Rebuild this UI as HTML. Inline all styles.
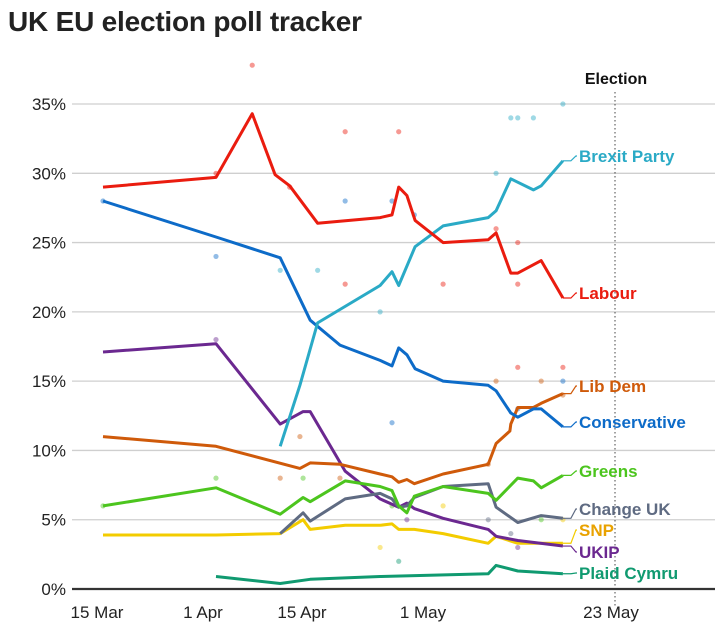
<!DOCTYPE html>
<html><head><meta charset="utf-8"><style>
body{margin:0;background:#fff;width:720px;height:630px;overflow:hidden;font-family:"Liberation Sans",sans-serif}
svg{display:block}
</style></head><body>
<svg width="720" height="630">
<text x="8" y="31" font-size="28" font-weight="bold" fill="#222" textLength="354">UK EU election poll tracker</text>
<g id="grid"></g><g id="dots"></g><g id="lines"></g><g id="labels"></g>
</svg>
<script>
const yTicks=[0,5,10,15,20,25,30,35];
const xTickDays=[0,17,31,47,69];
const xTickLabels=["15 Mar","1 Apr","15 Apr","1 May","23 May"];
const electionDay=69;
const labourDays=[0,17,22.7,26.3,28.6,32.7,41.1,42.7,43.6,44.7,45.8,49.2,54.4,55.3,57.0,57.8,60.5,63];
const labourVals=[29.0,29.7,34.3,29.9,29.1,26.4,26.8,27.0,29.0,28.4,26.6,25.0,25.2,25.7,22.8,22.8,23.7,21.0];
const brexitDays=[27.1,30.2,32.7,41.1,42.7,43.6,45.8,49.2,54.4,55.3,57.0,59.6,60.5,63];
const brexitVals=[10.3,14.7,19.2,21.9,22.9,21.9,24.7,26.2,26.8,27.3,29.6,28.8,29.1,30.9];
const conDays=[0,17,27.1,31.7,35.7,41.1,42.7,43.6,44.7,45.8,49.2,54.4,55.3,57.0,57.8,59.6,60.5,63];
const conVals=[28.0,25.4,23.9,19.4,17.6,16.5,16.1,17.4,16.9,15.9,15.0,14.7,14.3,12.7,12.4,13.0,13.0,11.7];
const ldDays=[0,17,30.2,31.7,35.7,41.1,42.7,43.6,44.7,45.7,49.2,54.4,55.3,56.9,57.0,57.8,59.6,60.5,63];
const ldVals=[11.0,10.3,8.7,9.1,9.0,8.3,8.1,7.7,7.9,7.6,8.3,9.0,10.5,11.4,11.9,13.1,13.1,13.4,14.1];
const grnDays=[0,17,27.1,30.7,31.7,36.4,41.1,42.7,43.6,44.7,45.7,49.2,54.4,55.3,57.8,59.6,60.5,63];
const grnVals=[6.0,7.3,5.4,6.6,6.3,7.8,7.4,7.1,6.0,5.5,6.7,7.4,6.9,6.4,8.0,7.8,7.3,8.2];
const cukDays=[27.1,30.7,31.7,36.4,41.1,42.7,43.6,44.7,45.7,49.2,54.4,55.3,57.8,60.5,63];
const cukVals=[4.0,5.5,4.9,6.5,6.9,6.5,5.9,6.0,6.6,7.4,7.6,5.9,4.8,5.3,5.1];
const snpDays=[0,17,27.1,30.7,31.7,36.4,41.1,42.7,43.6,44.7,45.7,49.2,54.4,55.3,57.8,63];
const snpVals=[3.9,3.9,4.0,5.0,4.3,4.6,4.6,4.7,4.3,4.3,4.3,4.0,3.3,3.8,3.3,3.3];
const ukipDays=[0,17,27.1,30.7,31.7,36.4,41.1,43.6,44.7,45.7,49.2,54.4,55.3,57.8,63];
const ukipVals=[17.1,17.7,11.9,12.8,12.8,8.5,6.5,5.9,6.2,5.8,5.1,4.3,3.8,3.5,3.1];
const pcDays=[17,27.1,31.7,36.4,41.1,54.4,55.3,57.8,63];
const pcVals=[0.9,0.4,0.7,0.8,0.9,1.1,1.7,1.3,1.1];
const dotDays=[22.7,36.4,43.6,17,28.6,36.4,32.7,57,57.8,59.6,55.3,57.8,63,17,27.1,41.1,55.3,57.8,63,36.4,42.7,45.7,49.2,57.8,63,0,17,30.2,35.7,42.7,55.3,57.8,60.5,63,0,17,27.1,42.7,54.4,57.8,63,30.7,41.1,44.7,54.4,57.0,60.5,49.2,43.6];
const dotVals=[37.8,33.0,33.0,30.0,29.0,22.0,23.0,34.0,34.0,34.0,30.0,25.0,35.0,24.0,23.0,20.0,26.0,16.0,16.0,28.0,28.0,27.0,22.0,22.0,15.0,28.0,18.0,11.0,8.0,12.0,15.0,13.0,15.0,14.0,6.0,8.0,8.0,6.0,5.0,3.0,5.0,8.0,3.0,5.0,9.0,4.0,5.0,6.0,2.0];
const dotParty=["lab","lab","lab","lab","lab","lab","brx","brx","brx","brx","brx","lab","brx","con","brx","brx","lab","lab","lab","con","con","con","lab","lab","con","con","ukip","ld","ld","con","ld","con","ld","ld","grn","grn","ld","grn","cuk","ukip","snp","grn","snp","ukip","ld","cuk","grn","snp","pc"];

const ax=[0,17,31,47,69], apx=[103,216,305,424,615];
function X(d){for(let i=0;i<ax.length-1;i++){if(d<=ax[i+1]||i==ax.length-2){return apx[i]+(d-ax[i])*(apx[i+1]-apx[i])/(ax[i+1]-ax[i]);}}}
function Y(v){return 589-v*13.857;}
const NS="http://www.w3.org/2000/svg";
function mk(t,a,p){const e=document.createElementNS(NS,t);for(const k in a)e.setAttribute(k,a[k]);p.appendChild(e);return e;}
const grid=document.getElementById('grid'),dots=document.getElementById('dots'),lines=document.getElementById('lines'),labels=document.getElementById('labels');
yTicks.forEach(v=>{
  if(v>0){const l=mk('line',{x1:72,x2:715,y1:Y(v),y2:Y(v),stroke:'#cfcfcf','stroke-width':1.3},grid);
  
  }
  const t=mk('text',{x:66,y:Y(v)+6,'text-anchor':'end','font-size':17,fill:'#222'},grid);t.textContent=v+'%';
  
  
});
const el=mk('line',{x1:X(electionDay),x2:X(electionDay),y1:92,y2:606,stroke:'#444','stroke-width':1,'stroke-dasharray':'1.5,2.5'},grid);


const et=mk('text',{x:X(electionDay)+1,y:84,'text-anchor':'middle','font-size':16,'font-weight':'bold',fill:'#111'},grid);et.textContent='Election';


const base=mk('line',{x1:72,x2:715,y1:589,y2:589,stroke:'#333','stroke-width':2.2},grid);


const xOff=[-6,-13,-3,-1,-4];
xTickDays.forEach((d,i)=>{const t=mk('text',{x:X(d)+xOff[i],y:618,'text-anchor':'middle','font-size':17,fill:'#222'},grid);t.textContent=xTickLabels[i];
  
  });
const col={lab:'#ea1c0f',brx:'#2aaac6',con:'#0d6bc8',ld:'#cf5a0a',grn:'#4cc51e',cuk:'#5f6b82',snp:'#f3cc00',ukip:'#6b2890',pc:'#109a70'};
dotDays.forEach((d,i)=>{const c=mk('circle',{cx:X(d),cy:Y(dotVals[i]),r:2.6,fill:col[dotParty[i]],opacity:0.45},dots);
  
  });
const series=[
 ['pc',pcDays,pcVals,'Plaid Cymru',579,'#109a70'],
 ['snp',snpDays,snpVals,'SNP',536,'#e9a200'],
 ['ukip',ukipDays,ukipVals,'UKIP',558,'#6b2890'],
 ['cuk',cukDays,cukVals,'Change UK',515,'#5f6b82'],
 ['grn',grnDays,grnVals,'Greens',477,'#4cc51e'],
 ['ld',ldDays,ldVals,'Lib Dem',392,'#cf5a0a'],
 ['con',conDays,conVals,'Conservative',428,'#0d6bc8'],
 ['brx',brexitDays,brexitVals,'Brexit Party',162,'#2aaac6'],
 ['lab',labourDays,labourVals,'Labour',299,'#ea1c0f']];
series.forEach(s=>{
  const [k,ds,vs,name,ly,lc]=s;
  const pts=ds.map((d,i)=>X(d).toFixed(1)+','+Y(vs[i]).toFixed(1)).join(' ');
  const p=mk('polyline',{points:pts,fill:'none',stroke:col[k],'stroke-width':3,'stroke-linejoin':'round'},lines);
  
  
  const lx=X(ds[ds.length-1]), lyy=Y(vs[vs.length-1]);
  const c=mk('polyline',{points:lx+','+lyy+' '+(lx+8)+','+lyy+' '+(lx+13)+','+(ly-6)+' 577,'+(ly-6),fill:'none',stroke:col[k],'stroke-width':1.2},labels);
  
  
  const t=mk('text',{x:579,y:ly,'font-size':17,'font-weight':'bold',fill:lc},labels);t.textContent=name;
  
  
});
</script>
</body></html>
